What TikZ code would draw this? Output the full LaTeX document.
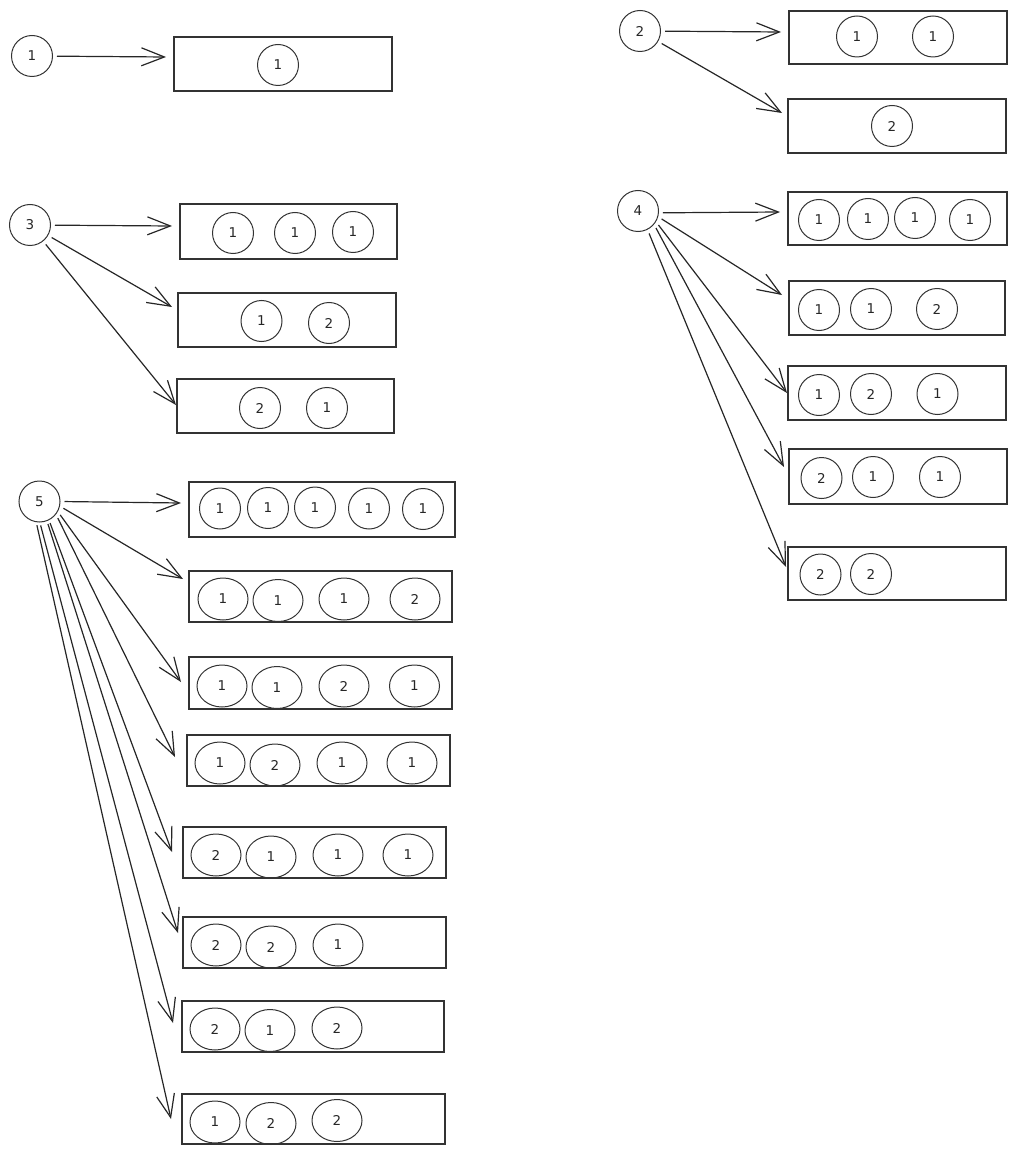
\documentclass[tikz,border=0pt]{standalone}
\usepackage{fontspec}
\setmainfont{DejaVu Sans}
\usetikzlibrary{arrows.meta,shapes.geometric}
\begin{document}
\begin{tikzpicture}[x=1pt,y=-1pt,
  lbl/.style={font=\fontsize{13.5}{15}\selectfont,text=black!85},
  root/.style={lbl,circle,draw=black!80,line width=1pt,minimum size=41pt,inner sep=0pt},
  ball/.style={lbl,circle,draw=black!80,line width=1pt,minimum size=41pt,inner sep=0pt},
  egg/.style={lbl,ellipse,draw=black!80,line width=1pt,minimum width=50pt,minimum height=42pt,inner sep=0pt},
  box/.style={draw=black!80,line width=1.4pt,inner sep=0pt},
  arr/.style={draw=black!85,line width=1.2pt,shorten <=4pt,-{Straight Barb[length=23pt,width=18pt,line width=1.2pt]}}]
\useasboundingbox (0,0) rectangle (1017,1155);

% ---------- roots ----------
\node[root] (r1) at (32,56) {1};
\node[root] (r2) at (640,31) {2};
\node[root] (r3) at (30,225) {3};
\node[root] (r4) at (638,211) {4};
\node[root] (r5) at (39.5,501.5) {5};

% ---------- boxes ----------
\node[box,minimum width=218pt,minimum height=54pt] (b11) at (283,64) {};
\node[box,minimum width=218pt,minimum height=53pt] (b21) at (898,37.5) {};
\node[box,minimum width=218pt,minimum height=54pt] (b22) at (897,126) {};
\node[box,minimum width=217pt,minimum height=55pt] (b31) at (288.5,231.5) {};
\node[box,minimum width=218pt,minimum height=54pt] (b32) at (287,320) {};
\node[box,minimum width=217pt,minimum height=54pt] (b33) at (285.5,406) {};
\node[box,minimum width=219pt,minimum height=53pt] (b41) at (897.5,218.5) {};
\node[box,minimum width=216pt,minimum height=54pt] (b42) at (897,308) {};
\node[box,minimum width=218pt,minimum height=54pt] (b43) at (897,393) {};
\node[box,minimum width=218pt,minimum height=55pt] (b44) at (898,476.5) {};
\node[box,minimum width=218pt,minimum height=53pt] (b45) at (897,573.5) {};
\node[box,minimum width=266pt,minimum height=55pt] (b51) at (322,509.5) {};
\node[box,minimum width=263pt,minimum height=51pt] (b52) at (320.5,596.5) {};
\node[box,minimum width=263pt,minimum height=52pt] (b53) at (320.5,683) {};
\node[box,minimum width=263pt,minimum height=51pt] (b54) at (318.5,760.5) {};
\node[box,minimum width=263pt,minimum height=51pt] (b55) at (314.5,852.5) {};
\node[box,minimum width=263pt,minimum height=51pt] (b56) at (314.5,942.5) {};
\node[box,minimum width=262pt,minimum height=51pt] (b57) at (313,1026.5) {};
\node[box,minimum width=263pt,minimum height=50pt] (b58) at (313.5,1119) {};

% ---------- contents ----------
\node[ball] (c11a) at (278,65) {1};

\node[ball] (c21a) at (857,36.5) {1};
\node[ball] (c21b) at (933,36.5) {1};
\node[ball] (c22a) at (892,126) {2};

\node[ball] (c31a) at (233,233) {1};
\node[ball] (c31b) at (295,233) {1};
\node[ball] (c31c) at (353,232) {1};
\node[ball] (c32a) at (261.5,321) {1};
\node[ball] (c32b) at (329,323) {2};
\node[ball] (c33a) at (260,408) {2};
\node[ball] (c33b) at (327,408) {1};

\node[ball] (c41a) at (819,220) {1};
\node[ball] (c41b) at (868,219) {1};
\node[ball] (c41c) at (915,218) {1};
\node[ball] (c41d) at (970,220) {1};
\node[ball] (c42a) at (819,310) {1};
\node[ball] (c42b) at (871,309) {1};
\node[ball] (c42c) at (937,309) {2};
\node[ball] (c43a) at (819,395) {1};
\node[ball] (c43b) at (871,394) {2};
\node[ball] (c43c) at (937.5,394) {1};
\node[ball] (c44a) at (821.5,478) {2};
\node[ball] (c44b) at (873,477) {1};
\node[ball] (c44c) at (940,477) {1};
\node[ball] (c45a) at (820.5,574.5) {2};
\node[ball] (c45b) at (871,574) {2};

\node[ball] (c51a) at (220,508.5) {1};
\node[ball] (c51b) at (268,508) {1};
\node[ball] (c51c) at (315,507.5) {1};
\node[ball] (c51d) at (369,508.5) {1};
\node[ball] (c51e) at (423,509) {1};

\node[egg] (c52a) at (223,599) {1};
\node[egg] (c52b) at (278,600.5) {1};
\node[egg] (c52c) at (344,599) {1};
\node[egg] (c52d) at (415,599) {2};

\node[egg] (c53a) at (222,686) {1};
\node[egg] (c53b) at (277,687.5) {1};
\node[egg] (c53c) at (344,686) {2};
\node[egg] (c53d) at (414.5,686) {1};

\node[egg] (c54a) at (220,763) {1};
\node[egg] (c54b) at (275,765) {2};
\node[egg] (c54c) at (342,763) {1};
\node[egg] (c54d) at (412,763) {1};

\node[egg] (c55a) at (216,855) {2};
\node[egg] (c55b) at (271,857) {1};
\node[egg] (c55c) at (338,855) {1};
\node[egg] (c55d) at (408,855) {1};

\node[egg] (c56a) at (216,945) {2};
\node[egg] (c56b) at (271,947) {2};
\node[egg] (c56c) at (338,945) {1};

\node[egg] (c57a) at (215,1029) {2};
\node[egg] (c57b) at (270,1030.5) {1};
\node[egg] (c57c) at (337,1028) {2};

\node[egg] (c58a) at (215,1122) {1};
\node[egg] (c58b) at (271,1123.5) {2};
\node[egg] (c58c) at (337,1120.5) {2};

% ---------- arrow tips ----------
\coordinate (t11) at (166,57);
\coordinate (t21) at (781,32);
\coordinate (t22) at (782,113);
\coordinate (t31) at (172,226);
\coordinate (t32) at (172,307);
\coordinate (t33) at (176,405);
\coordinate (t41) at (780,212);
\coordinate (t42) at (782,295);
\coordinate (t43) at (787,393);
\coordinate (t44) at (784,467);
\coordinate (t45) at (786,567);
\coordinate (t51) at (181,503);
\coordinate (t52) at (183,579);
\coordinate (t53) at (181,682);
\coordinate (t54) at (175,757);
\coordinate (t55) at (172,852);
\coordinate (t56) at (178,933);
\coordinate (t57) at (173,1023);
\coordinate (t58) at (171,1119);

% ---------- arrows ----------
\draw[arr] (r1) -- (t11);
\draw[arr] (r2) -- (t21);
\draw[arr] (r2) -- (t22);
\draw[arr] (r3) -- (t31);
\draw[arr] (r3) -- (t32);
\draw[arr] (r3) -- (t33);
\draw[arr] (r4.-5) -- (t41);
\draw[arr] (r4.-16) -- (t42);
\draw[arr] (r4.-31) -- (t43);
\draw[arr] (r4.-40) -- (t44);
\draw[arr] (r4.-63) -- (t45);
\draw[arr] (r5.0) -- (t51);
\draw[arr] (r5.-13) -- (t52);
\draw[arr] (r5.-29) -- (t53);
\draw[arr] (r5.-38) -- (t54);
\draw[arr,shorten <=3pt] (r5.-63) -- (t55);
\draw[arr,shorten <=3pt] (r5.-69) -- (t56);
\draw[arr,shorten <=3pt] (r5.-89) -- (t57);
\draw[arr,shorten <=3pt] (r5.-99) -- (t58);
\end{tikzpicture}
\end{document}
